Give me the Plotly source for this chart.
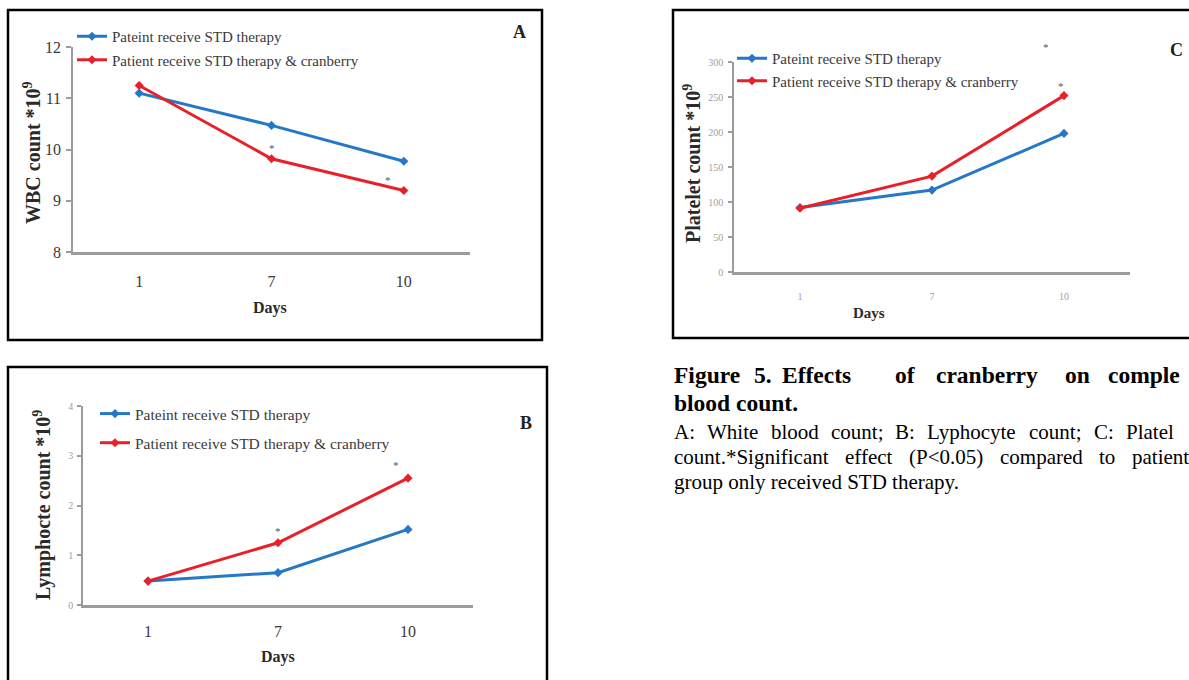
import plotly.graph_objects as go

W, H = 1189, 680

# ---------------- data ----------------
days = ["1", "7", "10"]
series_names = ["Pateint receive STD therapy",
                "Patient receive STD therapy & cranberry"]

wbc_std = [11.1, 10.47, 9.77]
wbc_cran = [11.25, 9.82, 9.2]

lym_std = [0.48, 0.65, 1.52]
lym_cran = [0.48, 1.25, 2.55]

plt_std = [92, 117, 198]
plt_cran = [91, 137, 252]

# significance asterisks: (category position, value)
wbc_sig = [(1.0, 10.03), (1.88, 9.4)]
lym_sig = [(1.0, 1.49), (1.91, 2.82)]
plt_sig = [(1.86, 321), (1.98, 266)]

BLUE = "#2577c8"
RED = "#e8202a"
AXC = "#9c9c9c"
FONT = "Liberation Serif"


def fx(p):
    return p / W


def fy(p):
    return 1 - p / H


# Times / Liberation Serif regular advance widths (1/1000 em) for caption justification
TW = {" ": 250, "A": 722, "B": 667, "C": 667, "D": 722, "P": 556, "S": 556,
      "T": 611, "W": 944, "L": 611, "a": 444, "b": 500, "c": 444, "d": 500,
      "e": 444, "f": 333, "g": 500, "h": 500, "i": 278, "l": 278, "m": 778,
      "n": 500, "o": 500, "p": 500, "r": 333, "s": 389, "t": 278, "u": 500,
      "v": 500, "y": 500, ":": 278, ";": 278, ".": 250, "*": 500, "(": 333,
      ")": 333, "<": 564, "0": 500, "5": 500}


def text_w(s, size):
    return sum(TW.get(ch, 500) for ch in s) / 1000.0 * size


panels = [
    dict(ax="", xd=(73, 470), yd=(47, 252), yr=[8, 12], dt=1,
         std=wbc_std, cran=wbc_cran, sig=wbc_sig, legend="legend",
         ytf=dict(size=16, color="#3a3a3a"), xtf=dict(size=16, color="#3a3a3a"),
         ylen=5, ystand=2, xstand=13,
         leg=dict(x=72, y=20, gap=1, size=15),
         ytitle="WBC count *10<sup>9</sup>", yt_pos=(32, 153),
         days_pos=(270, 308), days_size=16,
         letter="A", letter_pos=(519, 32)),
    dict(ax="2", xd=(83, 473), yd=(406, 605), yr=[0, 4], dt=1,
         std=lym_std, cran=lym_cran, sig=lym_sig, legend="legend2",
         ytf=dict(size=10, color="#a0a0a0"), xtf=dict(size=16, color="#3a3a3a"),
         ylen=4, ystand=2, xstand=10,
         leg=dict(x=95, y=397, gap=6, size=15.5),
         ytitle="Lymphocte count *10<sup>9</sup>", yt_pos=(42, 505),
         days_pos=(278, 657), days_size=16,
         letter="B", letter_pos=(526, 423)),
    dict(ax="3", xd=(734, 1130), yd=(62, 272), yr=[0, 300], dt=50,
         std=plt_std, cran=plt_cran, sig=plt_sig, legend="legend3",
         ytf=dict(size=10, color="#a0a0a0"), xtf=dict(size=10, color="#a0a0a0"),
         ylen=4, ystand=3, xstand=13,
         leg=dict(x=732, y=42, gap=0, size=15),
         ytitle="Platelet count *10<sup>9</sup>", yt_pos=(692, 164),
         days_pos=(869, 313), days_size=15,
         letter="C", letter_pos=(1176, 50)),
]

fig = go.Figure()
annotations = []
layout = {}

for p in panels:
    a = p["ax"]
    xref = "x" + a
    yref = "y" + a
    for vals, name, col in [(p["std"], series_names[0], BLUE),
                            (p["cran"], series_names[1], RED)]:
        fig.add_trace(go.Scatter(
            x=days, y=vals, name=name, mode="lines+markers",
            line=dict(color=col, width=3),
            marker=dict(symbol="diamond", size=7, color=col),
            xaxis=xref, yaxis=yref, legend=p["legend"],
            legendgroup=p["legend"] + name,
        ))
    layout["xaxis" + a] = dict(
        domain=[fx(p["xd"][0]), fx(p["xd"][1])],
        anchor=yref, type="category", range=[-0.5, 2.5],
        showline=True, linecolor=AXC, linewidth=3,
        showgrid=False, zeroline=False, ticks="", automargin=False,
        tickfont=dict(family=FONT, **p["xtf"]),
        ticklabelstandoff=p["xstand"], fixedrange=True,
    )
    layout["yaxis" + a] = dict(
        domain=[fy(p["yd"][1]), fy(p["yd"][0])],
        anchor=xref, range=p["yr"], dtick=p["dt"],
        showline=True, linecolor=AXC, linewidth=1.5,
        showgrid=False, zeroline=False, ticks="outside", automargin=False,
        ticklen=p["ylen"], tickcolor=AXC, tickwidth=1.5,
        tickfont=dict(family=FONT, **p["ytf"]),
        ticklabelstandoff=p["ystand"], fixedrange=True,
    )
    lg = p["leg"]
    layout[p["legend"]] = dict(
        x=fx(lg["x"]), y=fy(lg["y"]), xanchor="left", yanchor="top",
        bgcolor="rgba(0,0,0,0)", borderwidth=0,
        font=dict(family=FONT, size=lg["size"], color="#3a3a3a"),
        tracegroupgap=lg["gap"], itemwidth=30, traceorder="grouped",
    )
    # significance asterisks
    for cx, val in p["sig"]:
        ymin, ymax = p["yr"]
        annotations.append(dict(
            x=cx, y=(val - ymin) / (ymax - ymin), xref=xref,
            yref=yref + " domain", text="*", showarrow=False,
            xanchor="center", yanchor="middle",
            font=dict(family=FONT, size=11, color="#555555"),
        ))
    # y axis title
    annotations.append(dict(
        x=fx(p["yt_pos"][0]), y=fy(p["yt_pos"][1]), xref="paper", yref="paper",
        xanchor="center", yanchor="middle",
        text="<b>" + p["ytitle"] + "</b>", textangle=-90, showarrow=False,
        font=dict(family=FONT, size=20, color="#2a2a2a"),
    ))
    # x axis title
    annotations.append(dict(
        x=fx(p["days_pos"][0]), y=fy(p["days_pos"][1]), xref="paper", yref="paper",
        xanchor="center", yanchor="middle",
        text="<b>Days</b>", showarrow=False,
        font=dict(family=FONT, size=p["days_size"], color="#2a2a2a"),
    ))
    # panel letter
    annotations.append(dict(
        x=fx(p["letter_pos"][0]), y=fy(p["letter_pos"][1]), xref="paper", yref="paper",
        xanchor="center", yanchor="middle",
        text="<b>" + p["letter"] + "</b>", showarrow=False,
        font=dict(family=FONT, size=18, color="#222222"),
    ))

# caption (justified first line, cut at the right edge like the source)
cap_words = [("Figure", 672), ("5.", 752), ("Effects", 780), ("of", 893),
             ("cranberry", 934), ("on", 1063), ("comple", 1106)]
for wtxt, xp in cap_words:
    annotations.append(dict(
        x=fx(xp), y=fy(375), xref="paper", yref="paper",
        xanchor="left", yanchor="middle",
        text="<b>" + wtxt + "</b>", showarrow=False,
        font=dict(family=FONT, size=23.5, color="black"),
    ))
annotations.append(dict(
    x=fx(672), y=fy(403), xref="paper", yref="paper",
    xanchor="left", yanchor="middle",
    text="<b>blood count.</b>", showarrow=False,
    font=dict(family=FONT, size=23.5, color="black"),
))

CAP_SIZE = 21
COL_L, COL_R = 672, 1187
# (words of the full justified line, word shown last because the page cuts it)
just_lines = [
    (["A:", "White", "blood", "count;", "B:", "Lyphocyte", "count;", "C:", "Platelet"], "Platel", 432),
    (["count.*Significant", "effect", "(P<0.05)", "compared", "to", "patient"], "patient", 457),
]
for words, last_shown, ypx in just_lines:
    widths = [text_w(wd, CAP_SIZE) for wd in words]
    gap = (COL_R - COL_L - sum(widths)) / (len(words) - 1)
    xcur = COL_L
    for i, wd in enumerate(words):
        shown = last_shown if i == len(words) - 1 else wd
        annotations.append(dict(
            x=fx(xcur), y=fy(ypx), xref="paper", yref="paper",
            xanchor="left", yanchor="middle",
            text=shown.replace("<", "&lt;"), showarrow=False,
            font=dict(family=FONT, size=CAP_SIZE, color="black"),
        ))
        xcur += widths[i] + gap
annotations.append(dict(
    x=fx(COL_L), y=fy(482), xref="paper", yref="paper",
    xanchor="left", yanchor="middle",
    text="group only received STD therapy.", showarrow=False,
    font=dict(family=FONT, size=CAP_SIZE, color="black"),
))

boxes = [(8, 10, 542, 340), (8, 367, 547, 690), (673, 10, 1200, 338)]
shapes = [dict(type="rect", xref="paper", yref="paper",
               x0=fx(b[0]), x1=fx(b[2]), y0=fy(b[3]), y1=fy(b[1]),
               line=dict(color="black", width=2.5)) for b in boxes]

fig.update_layout(
    template="none",
    width=W, height=H,
    margin=dict(l=0, r=0, t=0, b=0, pad=0, autoexpand=False),
    paper_bgcolor="white", plot_bgcolor="white",
    annotations=annotations, shapes=shapes, showlegend=True,
    **layout,
)

fig.write_html(
    "out.html",
    config={"displayModeBar": False},
    post_script="document.body.style.margin='0px';"
                "document.body.style.overflow='hidden';",
)
